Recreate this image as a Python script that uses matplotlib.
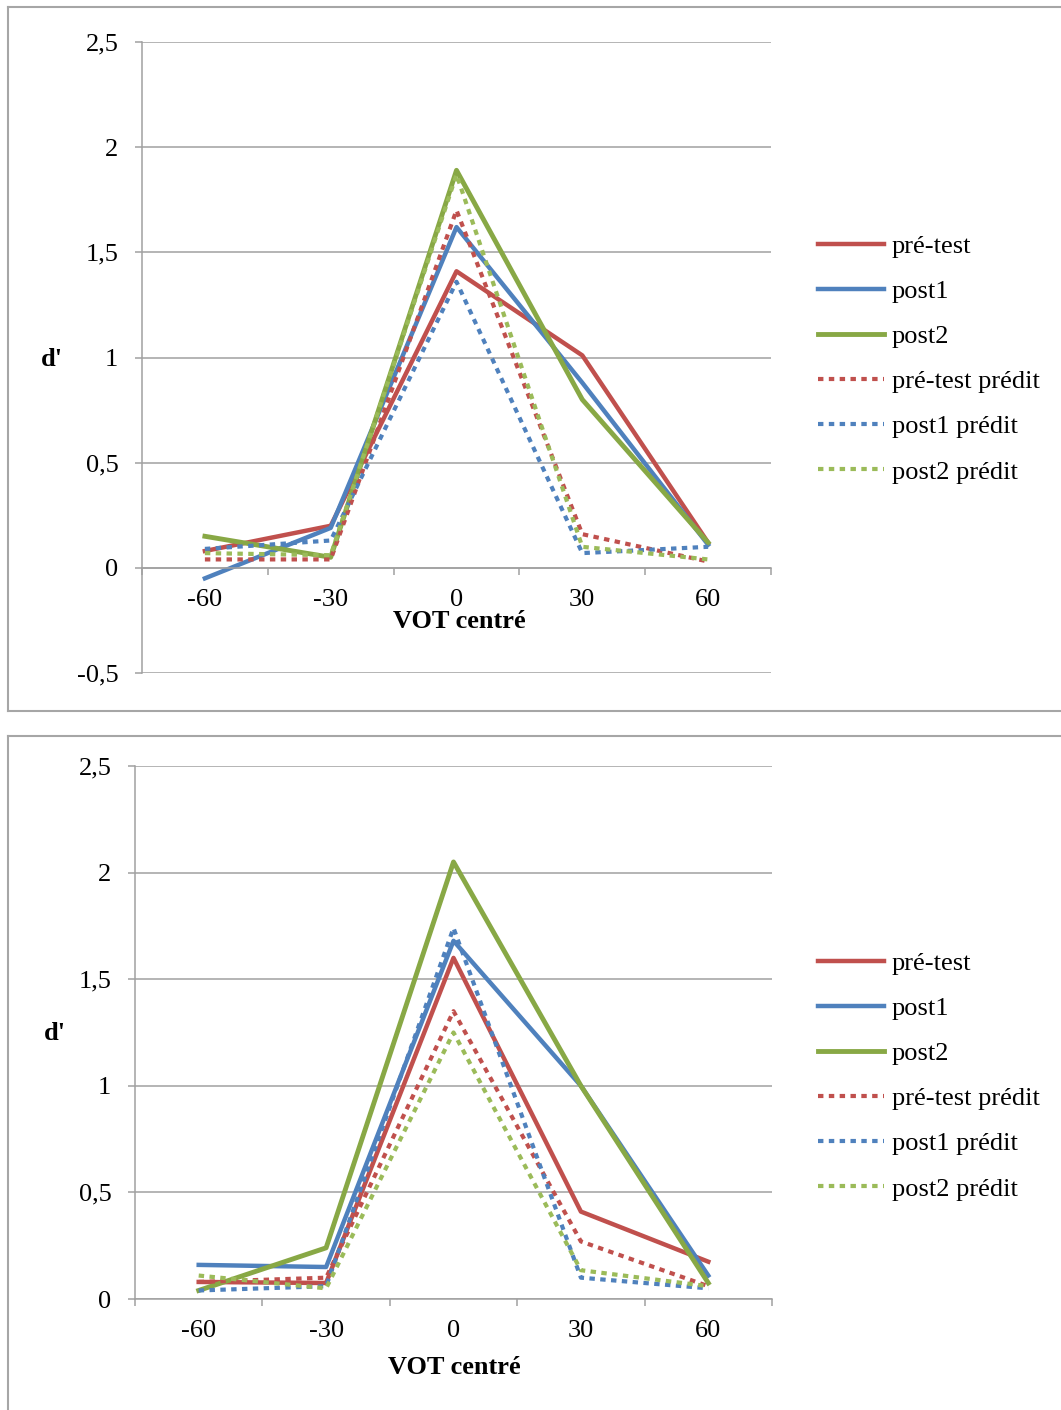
import matplotlib
matplotlib.use("Agg")
import matplotlib.pyplot as plt
from matplotlib.lines import Line2D
from matplotlib.ticker import FixedLocator

plt.rcParams['font.family'] = ['Liberation Serif', 'DejaVu Serif']

categories = ["-60", "-30", "0", "30", "60"]
series_names = ["pré-test", "post1", "post2", "pré-test prédit", "post1 prédit", "post2 prédit"]

# top chart
top_pre = [0.08, 0.20, 1.41, 1.01, 0.12]
top_post1 = [-0.05, 0.19, 1.62, 0.88, 0.11]
top_post2 = [0.15, 0.05, 1.89, 0.80, 0.12]
top_pre_pred = [0.04, 0.04, 1.70, 0.16, 0.03]
top_post1_pred = [0.09, 0.13, 1.36, 0.07, 0.10]
top_post2_pred = [0.07, 0.06, 1.87, 0.10, 0.04]

# bottom chart
bot_pre = [0.08, 0.075, 1.60, 0.41, 0.175]
bot_post1 = [0.16, 0.15, 1.68, 1.00, 0.11]
bot_post2 = [0.04, 0.24, 2.05, 1.00, 0.075]
bot_pre_pred = [0.08, 0.10, 1.35, 0.27, 0.06]
bot_post1_pred = [0.04, 0.06, 1.74, 0.10, 0.05]
bot_post2_pred = [0.11, 0.05, 1.25, 0.135, 0.06]

top_yticks = [-0.5, 0, 0.5, 1, 1.5, 2, 2.5]
top_ylabels = ["-0,5", "0", "0,5", "1", "1,5", "2", "2,5"]
bot_yticks = [0, 0.5, 1, 1.5, 2, 2.5]
bot_ylabels = ["0", "0,5", "1", "1,5", "2", "2,5"]

RED = '#C0504D'
BLUE = '#4F81BD'
GREEN = '#88A845'
GREEN_L = '#9BBB59'
GRID = '#A0A0A0'
FS = 19

styles = [
    dict(color=RED, ls='-', lw=3.2),
    dict(color=BLUE, ls='-', lw=3.2),
    dict(color=GREEN, ls='-', lw=3.5),
    dict(color=RED, ls=(0, (1.3, 1.3)), lw=3.0),
    dict(color=BLUE, ls=(0, (1.3, 1.3)), lw=3.0),
    dict(color=GREEN_L, ls=(0, (1.3, 1.3)), lw=3.0),
]

W, H = 1061, 1410
fig = plt.figure(figsize=(W / 100, H / 100), dpi=100)


def fx(px):
    return px / W


def fy(py):
    return 1 - py / H


# panel borders
bc = '#A6A6A6'
fig.add_artist(Line2D([fx(8), fx(1061)], [fy(7), fy(7)], color=bc, lw=1.5))
fig.add_artist(Line2D([fx(8), fx(1061)], [fy(711), fy(711)], color=bc, lw=1.5))
fig.add_artist(Line2D([fx(8), fx(8)], [fy(7), fy(711)], color=bc, lw=1.5))
fig.add_artist(Line2D([fx(8), fx(1061)], [fy(736), fy(736)], color=bc, lw=1.5))
fig.add_artist(Line2D([fx(8), fx(8)], [fy(736), fy(1410)], color=bc, lw=1.5))


def make_chart(rect, data, yticks, ylabels, ylim, xaxis_at_zero, leg_center_y, dlabel_pos, vot_pos):
    ax = fig.add_axes(rect)
    if xaxis_at_zero:
        ax.spines['bottom'].set_position(('data', 0))
    x = list(range(len(categories)))
    handles = []
    for vals, st, name in zip(data, styles, series_names):
        h, = ax.plot(x, vals, color=st['color'], linestyle=st['ls'], linewidth=st['lw'],
                     solid_joinstyle='round', dash_capstyle='butt', label=name)
        handles.append(h)
    ax.set_xlim(-0.5, len(categories) - 0.5)
    ax.set_ylim(*ylim)
    ax.set_yticks(yticks)
    ax.set_yticklabels(ylabels, fontsize=FS)
    ax.set_xticks(x)
    ax.set_xticklabels(categories, fontsize=FS)
    ax.xaxis.set_minor_locator(FixedLocator([i - 0.5 for i in range(len(categories) + 1)]))
    ax.tick_params(axis='x', which='major', length=0, pad=15)
    ax.tick_params(axis='x', which='minor', length=5, width=1.1, color=GRID, direction='out')
    ax.tick_params(axis='y', length=5, width=1.1, color=GRID, direction='out', pad=12)
    ax.grid(axis='y', color=GRID, lw=1.1)
    ax.set_axisbelow(True)
    for s in ['top', 'right']:
        ax.spines[s].set_visible(False)
    ax.spines['left'].set_color(GRID)
    ax.spines['left'].set_linewidth(1.1)
    ax.spines['bottom'].set_color(GRID)
    ax.spines['bottom'].set_linewidth(1.1)
    ax.legend(handles=handles, loc='center left', bbox_to_anchor=(fx(818), leg_center_y),
              bbox_transform=fig.transFigure, frameon=False, fontsize=FS,
              handlelength=2.5, handletextpad=0.3, labelspacing=0.82,
              borderpad=0, borderaxespad=0)
    fig.text(fx(dlabel_pos[0]), fy(dlabel_pos[1]), "d'", fontsize=FS, fontweight='bold',
             ha='center', va='center')
    fig.text(fx(vot_pos[0]), fy(vot_pos[1]), "VOT centré", fontsize=FS, fontweight='bold',
             ha='center', va='center')
    return ax


top_rect = [fx(142), fy(673), fx(771) - fx(142), fy(42) - fy(673)]
bot_rect = [fx(135), fy(1299), fx(772) - fx(135), fy(766) - fy(1299)]

make_chart(top_rect,
           [top_pre, top_post1, top_post2, top_pre_pred, top_post1_pred, top_post2_pred],
           top_yticks, top_ylabels, (-0.5, 2.5), True, fy(359), (52, 359), (459, 621))
make_chart(bot_rect,
           [bot_pre, bot_post1, bot_post2, bot_pre_pred, bot_post1_pred, bot_post2_pred],
           bot_yticks, bot_ylabels, (0, 2.5), False, fy(1076), (55, 1033), (454, 1368))

fig.savefig("out.png", dpi=100)
